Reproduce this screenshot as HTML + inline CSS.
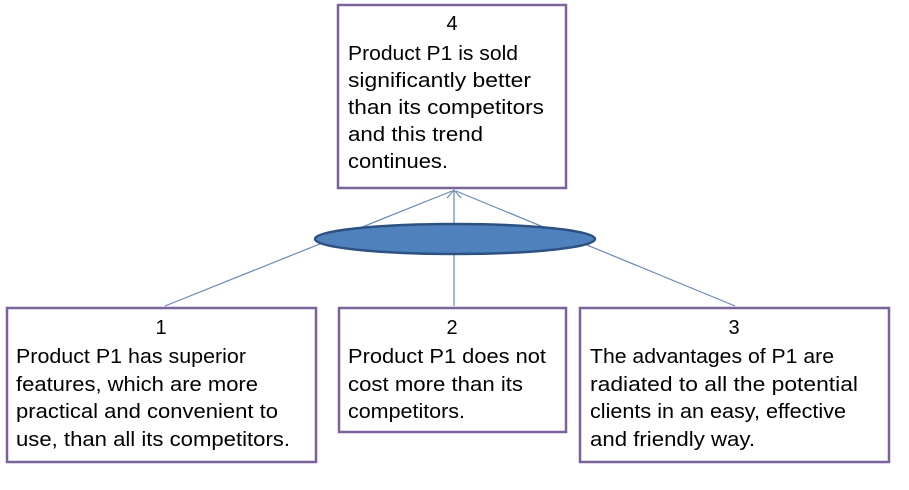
<!DOCTYPE html>
<html><head><style>body{margin:0;background:#fff}svg{display:block}</style></head><body>
<svg width="909" height="490" viewBox="0 0 909 490" xmlns="http://www.w3.org/2000/svg" font-family="Liberation Sans, sans-serif" font-size="20" fill="#000">
<g stroke="#6b8ab5" stroke-width="1.2">
<line x1="165" y1="306" x2="452" y2="191"/>
<line x1="454" y1="306" x2="454" y2="191"/>
<line x1="735" y1="306" x2="456" y2="191"/>
<polyline points="447,198 454,190 461,198" fill="none"/>
</g>
<ellipse cx="455" cy="239" rx="140" ry="15" fill="#4f81bd" stroke="#2c5282" stroke-width="2.5"/>
<g fill="#fff" stroke="#7b629a" stroke-width="2.5">
<rect x="338" y="5" width="228" height="183"/>
<rect x="7" y="308" width="309" height="154"/>
<rect x="339" y="308" width="227" height="124"/>
<rect x="580" y="308" width="309" height="154"/>
</g>
<g>
<text x="452" y="30" text-anchor="middle">4</text>
<text x="348" y="60" textLength="170" lengthAdjust="spacingAndGlyphs">Product P1 is sold</text>
<text x="348" y="87" textLength="183" lengthAdjust="spacingAndGlyphs">significantly better</text>
<text x="348" y="114" textLength="196" lengthAdjust="spacingAndGlyphs">than its competitors</text>
<text x="348" y="141" textLength="135" lengthAdjust="spacingAndGlyphs">and this trend</text>
<text x="348" y="168" textLength="100" lengthAdjust="spacingAndGlyphs">continues.</text>

<text x="161" y="334" text-anchor="middle">1</text>
<text x="16" y="363" textLength="230" lengthAdjust="spacingAndGlyphs">Product P1 has superior</text>
<text x="16" y="391" textLength="242" lengthAdjust="spacingAndGlyphs">features, which are more</text>
<text x="16" y="418" textLength="262" lengthAdjust="spacingAndGlyphs">practical and convenient to</text>
<text x="16" y="446" textLength="274" lengthAdjust="spacingAndGlyphs">use, than all its competitors.</text>

<text x="452" y="334" text-anchor="middle">2</text>
<text x="348" y="363" textLength="198" lengthAdjust="spacingAndGlyphs">Product P1 does not</text>
<text x="348" y="391" textLength="175" lengthAdjust="spacingAndGlyphs">cost more than its</text>
<text x="348" y="418" textLength="117" lengthAdjust="spacingAndGlyphs">competitors.</text>

<text x="734" y="334" text-anchor="middle">3</text>
<text x="590" y="363" textLength="244" lengthAdjust="spacingAndGlyphs">The advantages of P1 are</text>
<text x="590" y="391" textLength="268" lengthAdjust="spacingAndGlyphs">radiated to all the potential</text>
<text x="590" y="418" textLength="256" lengthAdjust="spacingAndGlyphs">clients in an easy, effective</text>
<text x="590" y="446" textLength="165" lengthAdjust="spacingAndGlyphs">and friendly way.</text>
</g>
</svg>
</body></html>
